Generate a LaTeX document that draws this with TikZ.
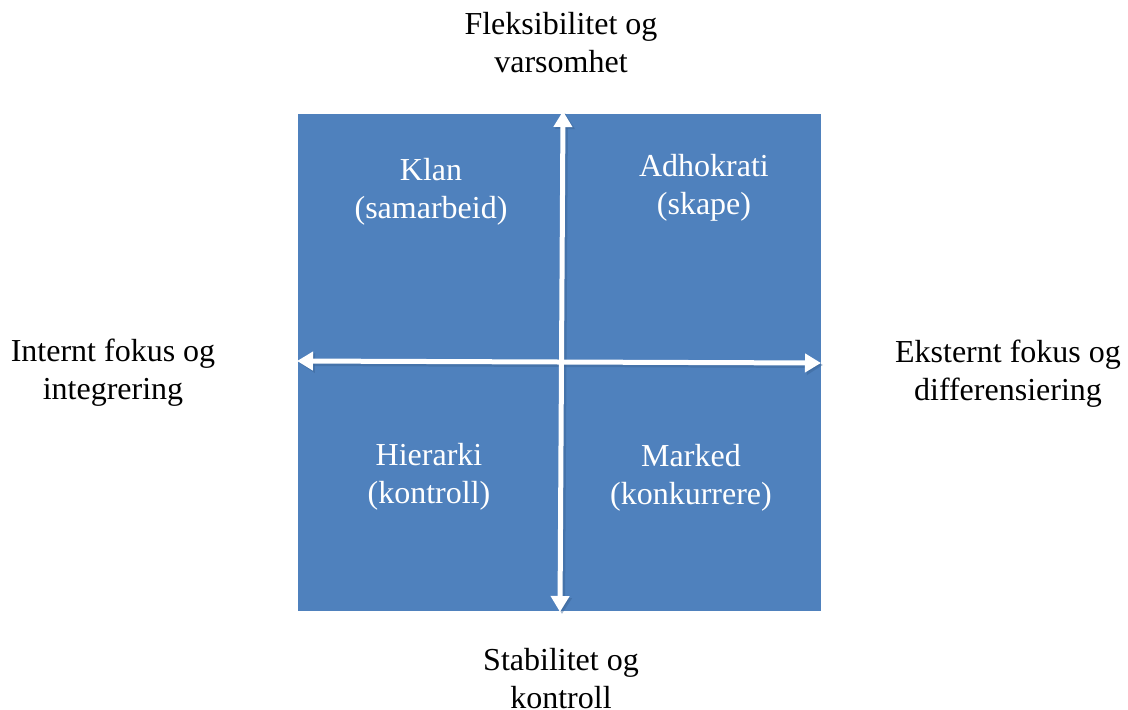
\documentclass[tikz,border=0pt]{standalone}
\usepackage{fontspec}
\setmainfont{Liberation Serif}
\usetikzlibrary{arrows.meta}
\definecolor{quadblue}{HTML}{4F81BD}
\definecolor{shadowblue}{HTML}{3A6394}
\tikzset{
  lbl/.style={align=center, font=\fontsize{32}{38}\selectfont, text=black, inner sep=0pt},
  qlbl/.style={lbl, text=white},
  axis/.style={draw=white, line width=5pt, {Triangle[length=16pt,width=18pt]}-{Triangle[length=16pt,width=18pt]}},
  axisshadow/.style={draw=shadowblue, opacity=0.45, line width=6pt, {Triangle[length=16pt,width=19pt]}-{Triangle[length=16pt,width=19pt]}}
}
\begin{document}
\begin{tikzpicture}[x=1pt,y=-1pt]
  \useasboundingbox (0,0) rectangle (1128,710);
  % quadrant field
  \fill[quadblue] (298,114) rectangle (821,611);
  % axis end points
  \coordinate (top) at (563,111);
  \coordinate (bottom) at (560,612);
  \coordinate (left) at (297,361);
  \coordinate (right) at (821,363);
  % soft shadows under the axes
  \draw[axisshadow] ([xshift=2pt,yshift=-2pt]top) -- ([xshift=2pt,yshift=-2pt]bottom);
  \draw[axisshadow] ([xshift=2pt,yshift=-2pt]left) -- ([xshift=2pt,yshift=-2pt]right);
  % axes
  \draw[axis] (top) -- (bottom);
  \draw[axis] (left) -- (right);
  % quadrant labels
  \node[qlbl] (klan) at (431,192) {Klan\\(samarbeid)};
  \node[qlbl] (adho) at (704,188) {Adhokrati\\(skape)};
  \node[qlbl] (hier) at (429,477) {Hierarki\\(kontroll)};
  \node[qlbl] (mark) at (691,478) {Marked\\(konkurrere)};
  % axis labels
  \node[lbl] (flex) at (561,43) {Fleksibilitet og\\varsomhet};
  \node[lbl] (stab) at (561,679) {Stabilitet og\\kontroll};
  \node[lbl] (intern) at (113,373) {Internt fokus og\\integrering};
  \node[lbl] (ekstern) at (1008,374) {Eksternt fokus og\\differensiering};
\end{tikzpicture}
\end{document}
